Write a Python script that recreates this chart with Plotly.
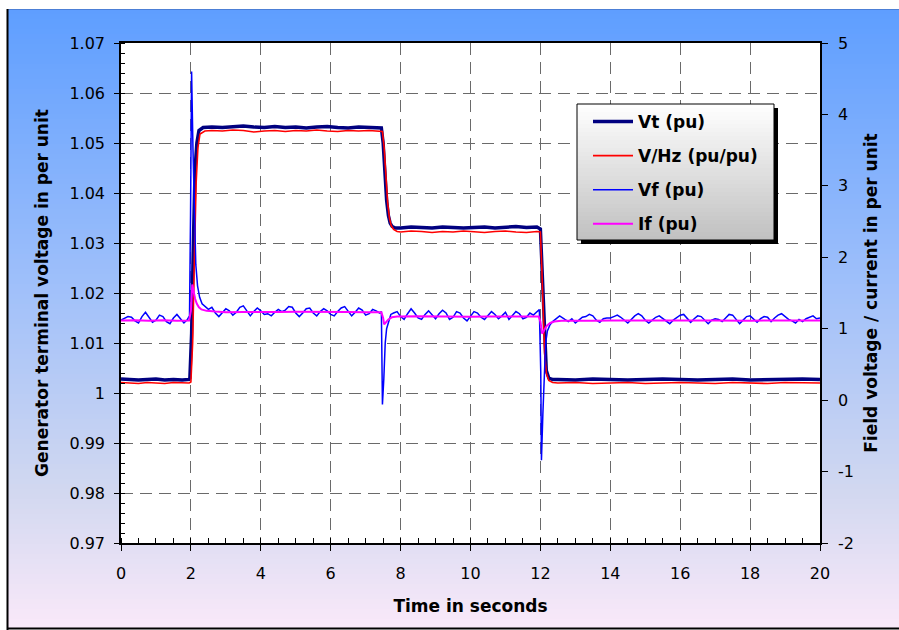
import plotly.graph_objects as go

# ---------------------------------------------------------------- data
# Terminal voltage Vt (pu) and V/Hz (pu/pu): left axis
t_vt = [0.0, 0.25, 0.5, 0.75, 1.0, 1.25, 1.5, 1.75, 1.95,
        1.97, 2.02, 2.07, 2.12, 2.17, 2.23, 2.35,
        2.6, 2.9, 3.2, 3.5, 3.8, 4.1, 4.4, 4.7, 5.0, 5.3, 5.6, 5.9, 6.2, 6.5, 6.8, 7.1, 7.4,
        7.45, 7.5, 7.55, 7.6, 7.65, 7.7, 7.76, 7.85,
        8.0, 8.3, 8.6, 8.9, 9.2, 9.5, 9.8, 10.1, 10.4, 10.7, 11.0, 11.3, 11.6, 11.9,
        12.0, 12.04, 12.08, 12.12, 12.17, 12.24, 12.35,
        12.5, 13.0, 13.5, 14.0, 14.5, 15.0, 15.5, 16.0, 16.5, 17.0, 17.5, 18.0, 18.5, 19.0, 19.5, 20.0]
vt = [1.0028, 1.0027, 1.0026, 1.0027, 1.0028, 1.0026, 1.0027, 1.0026, 1.0027,
      1.0030, 1.0120, 1.0300, 1.0450, 1.0500, 1.0525, 1.0531,
      1.0532, 1.0531, 1.0533, 1.0534, 1.0532, 1.0531, 1.0533, 1.0531, 1.0532, 1.0530, 1.0532, 1.0533, 1.0531, 1.0530, 1.0532, 1.0531, 1.0530,
      1.0530, 1.0500, 1.0440, 1.0385, 1.0355, 1.0340, 1.0333, 1.0330,
      1.0330, 1.0332, 1.0331, 1.0330, 1.0332, 1.0331, 1.0330, 1.0331, 1.0332, 1.0330, 1.0331, 1.0333, 1.0331, 1.0332,
      1.0328, 1.0260, 1.0170, 1.0090, 1.0045, 1.0030, 1.0027,
      1.0027, 1.0026, 1.0028, 1.0027, 1.0026, 1.0027, 1.0028, 1.0027, 1.0026, 1.0027, 1.0028, 1.0026, 1.0027, 1.0027, 1.0028, 1.0027]

t_vhz = [0.0, 0.25, 0.5, 0.75, 1.0, 1.25, 1.5, 1.75, 1.95,
         2.0, 2.05, 2.1, 2.15, 2.2, 2.26, 2.4,
         2.6, 2.9, 3.2, 3.5, 3.8, 4.1, 4.4, 4.7, 5.0, 5.3, 5.6, 5.9, 6.2, 6.5, 6.8, 7.1, 7.4,
         7.48, 7.53, 7.58, 7.63, 7.68, 7.73, 7.8, 7.9,
         8.0, 8.3, 8.6, 8.9, 9.2, 9.5, 9.8, 10.1, 10.4, 10.7, 11.0, 11.3, 11.6, 11.9,
         12.0, 12.04, 12.08, 12.12, 12.17, 12.24, 12.35,
         12.5, 13.0, 13.5, 14.0, 14.5, 15.0, 15.5, 16.0, 16.5, 17.0, 17.5, 18.0, 18.5, 19.0, 19.5, 20.0]
vhz = [1.0021, 1.0020, 1.0019, 1.0021, 1.0020, 1.0019, 1.0021, 1.0020, 1.0020,
       1.0022, 1.0100, 1.0270, 1.0420, 1.0490, 1.0518, 1.0524,
       1.0525, 1.0524, 1.0526, 1.0525, 1.0522, 1.0524, 1.0525, 1.0523, 1.0525, 1.0524, 1.0526, 1.0524, 1.0523, 1.0525, 1.0524, 1.0525, 1.0523,
       1.0523, 1.0490, 1.0430, 1.0380, 1.0350, 1.0335, 1.0327, 1.0323,
       1.0322, 1.0324, 1.0323, 1.0321, 1.0323, 1.0322, 1.0324, 1.0322, 1.0321, 1.0323, 1.0324, 1.0322, 1.0321, 1.0323,
       1.0322, 1.0250, 1.0160, 1.0080, 1.0040, 1.0025, 1.0021,
       1.0020, 1.0021, 1.0019, 1.0020, 1.0021, 1.0019, 1.0020, 1.0021, 1.0020, 1.0019, 1.0021, 1.0020, 1.0019, 1.0021, 1.0020, 1.0020]

# Field voltage Vf (pu): right axis
t_vf = [0.0, 0.1, 0.2, 0.3, 0.4, 0.5, 0.6, 0.7, 0.8, 0.9, 1.0, 1.1, 1.2, 1.3, 1.4, 1.5, 1.6, 1.7, 1.8, 1.9, 1.96,
        1.99, 2.02, 2.06, 2.10, 2.14, 2.19, 2.25, 2.32, 2.42,
        2.5, 2.6, 2.7, 2.8, 2.9, 3.0, 3.1, 3.2, 3.3, 3.4, 3.5, 3.6, 3.7, 3.8, 3.9, 4.0, 4.1, 4.2, 4.3, 4.4,
        4.5, 4.6, 4.7, 4.8, 4.9, 5.0, 5.1, 5.2, 5.3, 5.4, 5.5, 5.6, 5.7, 5.8, 5.9, 6.0, 6.1, 6.2, 6.3, 6.4,
        6.5, 6.6, 6.7, 6.8, 6.9, 7.0, 7.1, 7.2, 7.3, 7.4, 7.45,
        7.48, 7.52, 7.56, 7.6, 7.66, 7.72, 7.8, 7.9,
        8.0, 8.1, 8.2, 8.3, 8.4, 8.5, 8.6, 8.7, 8.8, 8.9, 9.0, 9.1, 9.2, 9.3, 9.4, 9.5, 9.6, 9.7, 9.8, 9.9,
        10.0, 10.1, 10.2, 10.3, 10.4, 10.5, 10.6, 10.7, 10.8, 10.9, 11.0, 11.1, 11.2, 11.3, 11.4, 11.5, 11.6,
        11.7, 11.8, 11.9, 11.97,
        12.01, 12.03, 12.07, 12.1, 12.15, 12.2, 12.27, 12.35, 12.45, 12.55,
        12.7, 12.8, 12.9, 13.0, 13.1, 13.2, 13.3, 13.4, 13.5, 13.6, 13.7, 13.8, 13.9, 14.0, 14.1, 14.2, 14.3,
        14.4, 14.5, 14.6, 14.7, 14.8, 14.9, 15.0, 15.1, 15.2, 15.3, 15.4, 15.5, 15.6, 15.7, 15.8, 15.9, 16.0,
        16.1, 16.2, 16.3, 16.4, 16.5, 16.6, 16.7, 16.8, 16.9, 17.0, 17.1, 17.2, 17.3, 17.4, 17.5, 17.6, 17.7,
        17.8, 17.9, 18.0, 18.1, 18.2, 18.3, 18.4, 18.5, 18.6, 18.7, 18.8, 18.9, 19.0, 19.1, 19.2, 19.3, 19.4,
        19.5, 19.6, 19.7, 19.8, 19.9, 20.0]
vf = [1.12, 1.14, 1.17, 1.16, 1.11, 1.08, 1.17, 1.23, 1.16, 1.09, 1.12, 1.19, 1.17, 1.10, 1.07, 1.15, 1.20, 1.14, 1.08, 1.13, 1.18,
      2.60, 4.60, 3.50, 2.50, 1.90, 1.60, 1.44, 1.35, 1.30,
      1.27, 1.30, 1.22, 1.17, 1.22, 1.28, 1.25, 1.19, 1.23, 1.30, 1.32, 1.24, 1.18, 1.24, 1.29, 1.25, 1.20, 1.21, 1.18, 1.23,
      1.27, 1.24, 1.26, 1.31, 1.30, 1.22, 1.17, 1.22, 1.28, 1.29, 1.22, 1.18, 1.24, 1.28, 1.25, 1.20, 1.18, 1.24, 1.29, 1.31,
      1.24, 1.18, 1.23, 1.29, 1.26, 1.19, 1.21, 1.27, 1.25, 1.22, 1.24,
      -0.06, 0.30, 0.80, 1.00, 1.12, 1.20, 1.22, 1.24,
      1.17, 1.13, 1.21, 1.28, 1.22, 1.15, 1.13, 1.20, 1.25, 1.19, 1.14, 1.21, 1.26, 1.22, 1.13, 1.16, 1.24, 1.22, 1.15, 1.11,
      1.18, 1.24, 1.22, 1.16, 1.13, 1.19, 1.24, 1.20, 1.14, 1.18, 1.23, 1.13, 1.18, 1.24, 1.21, 1.14, 1.16,
      1.22, 1.19, 1.24, 1.27,
      0.40, -0.84, -0.20, 0.25, 0.80, 0.97, 1.05, 1.10, 1.14, 1.18,
      1.13, 1.10, 1.14, 1.08, 1.12, 1.16, 1.17, 1.20, 1.18, 1.12, 1.09, 1.14, 1.15, 1.15, 1.17, 1.19, 1.16,
      1.12, 1.08, 1.13, 1.18, 1.21, 1.18, 1.12, 1.08, 1.12, 1.16, 1.18, 1.14, 1.10, 1.07, 1.12, 1.16, 1.19,
      1.20, 1.14, 1.09, 1.14, 1.18, 1.17, 1.12, 1.07, 1.12, 1.14, 1.13, 1.10, 1.15, 1.20, 1.19, 1.13, 1.07,
      1.12, 1.17, 1.18, 1.14, 1.09, 1.14, 1.17, 1.16, 1.10, 1.15, 1.19, 1.21, 1.17, 1.13, 1.11, 1.08, 1.13,
      1.10, 1.14, 1.16, 1.18, 1.14, 1.15]

# Field current If (pu): right axis
t_if = [0.0, 0.4, 0.8, 1.2, 1.6, 1.95,
        2.0, 2.04, 2.08, 2.12, 2.17, 2.23, 2.3, 2.45, 2.7,
        3.0, 3.5, 4.0, 4.5, 5.0, 5.5, 6.0, 6.5, 7.0, 7.45,
        7.5, 7.53, 7.58, 7.65, 7.75, 7.9,
        8.5, 9.0, 9.5, 10.0, 10.5, 11.0, 11.5, 11.95,
        12.0, 12.05, 12.1, 12.18, 12.28, 12.4, 12.6,
        13.0, 13.5, 14.0, 15.0, 16.0, 17.0, 18.0, 19.0, 20.0]
i_f = [1.115, 1.120, 1.112, 1.118, 1.110, 1.115,
       1.25, 1.62, 1.52, 1.42, 1.35, 1.30, 1.27, 1.25, 1.24,
       1.232, 1.235, 1.230, 1.233, 1.236, 1.232, 1.230, 1.234, 1.231, 1.232,
       1.15, 1.06, 1.09, 1.13, 1.16, 1.17,
       1.175, 1.170, 1.172, 1.168, 1.170, 1.173, 1.170, 1.172,
       1.10, 0.93, 0.97, 1.04, 1.08, 1.10, 1.11,
       1.115, 1.112, 1.115, 1.118, 1.112, 1.116, 1.113, 1.117, 1.115]

series_names = ["Vt (pu)", "V/Hz (pu/pu)", "Vf (pu)", "If (pu)"]

# right-axis ticks, written with a plain hyphen for negatives
right_ticks = [-2, -1, 0, 1, 2, 3, 4, 5]
right_labels = ["-2", "-1", "0", "1", "2", "3", "4", "5"]

# ---------------------------------------------------------------- geometry helpers
W, H = 899, 630
ML, MR, MT, MB = 121, 79, 43, 87
PW, PH = W - ML - MR, H - MT - MB


def px_x(p):
    return (p - ML) / PW


def px_y(p):
    return (H - MB - p) / PH


def lerp_color(stops, f):
    for (f0, c0), (f1, c1) in zip(stops[:-1], stops[1:]):
        if f <= f1:
            u = 0 if f1 == f0 else (f - f0) / (f1 - f0)
            c = [round(a + (b - a) * u) for a, b in zip(c0, c1)]
            return "rgb(%d,%d,%d)" % tuple(c)
    return "rgb(%d,%d,%d)" % tuple(stops[-1][1])


def gradient_strips(x0, y0, x1, y1, stops, n, layer):
    out = []
    step = (y1 - y0) / n
    for k in range(n):
        ya = y0 + k * step
        yb = min(y1, ya + step + 1)
        out.append(dict(type="rect", xref="paper", yref="paper",
                        x0=px_x(x0), x1=px_x(x1), y0=px_y(ya), y1=px_y(yb),
                        fillcolor=lerp_color(stops, (k + 0.5) / n),
                        line=dict(width=0), layer=layer))
    return out


shapes = []
# chart-area background: blue fading to pale pink
bg_stops = [(0.0, (94, 158, 255)), (0.45, (160, 192, 250)),
            (0.78, (210, 216, 240)), (1.0, (250, 233, 249))]
shapes += gradient_strips(8, 9, W, 629, bg_stops, 124, "below")
# white plotting area
shapes.append(dict(type="rect", xref="paper", yref="paper", x0=0, x1=1, y0=0, y1=1,
                   fillcolor="white", line=dict(width=0), layer="below"))
# outer frame
shapes.append(dict(type="line", xref="paper", yref="paper", x0=px_x(8), x1=px_x(W),
                   y0=px_y(9.5), y1=px_y(9.5), line=dict(color="#4c7fd6", width=1), layer="below"))
shapes.append(dict(type="line", xref="paper", yref="paper", x0=px_x(7.5), x1=px_x(7.5),
                   y0=px_y(9), y1=px_y(630), line=dict(color="black", width=2), layer="below"))
shapes.append(dict(type="line", xref="paper", yref="paper", x0=px_x(7), x1=px_x(W),
                   y0=px_y(628.5), y1=px_y(628.5), line=dict(color="black", width=2), layer="below"))

# legend panel: shadow, grey gradient, border
LX0, LY0, LX1, LY1 = 577, 104, 774, 240
shapes.append(dict(type="rect", xref="paper", yref="paper",
                   x0=px_x(LX0 + 4), x1=px_x(LX1 + 4), y0=px_y(LY0 + 4), y1=px_y(LY1 + 4),
                   fillcolor="black", line=dict(width=0), layer="above"))
shapes += gradient_strips(LX0, LY0, LX1, LY1, [(0.0, (255, 255, 255)), (1.0, (192, 192, 192))], 34, "above")
shapes.append(dict(type="rect", xref="paper", yref="paper",
                   x0=px_x(LX0), x1=px_x(LX1), y0=px_y(LY0), y1=px_y(LY1),
                   fillcolor="rgba(0,0,0,0)", line=dict(color="black", width=1), layer="above"))

# ---------------------------------------------------------------- traces
fig = go.Figure()
fig.add_trace(go.Scatter(x=t_vt, y=vt, name=series_names[0], mode="lines",
                         line=dict(color="#000080", width=3.4), legendgroup="a"))
fig.add_trace(go.Scatter(x=t_vhz, y=vhz, name=series_names[1], mode="lines",
                         line=dict(color="#ff0000", width=1.6), legendgroup="b"))
fig.add_trace(go.Scatter(x=t_vf, y=vf, name=series_names[2], mode="lines", yaxis="y2",
                         line=dict(color="#0000ff", width=1.5), legendgroup="c"))
fig.add_trace(go.Scatter(x=t_if, y=i_f, name=series_names[3], mode="lines", yaxis="y2",
                         line=dict(color="#ff00ff", width=2), legendgroup="d"))

FONT = "DejaVu Sans"
tick_font = dict(family=FONT, size=16, color="black")
title_font = dict(family=FONT, size=17, color="black", weight="bold")
grid = dict(showgrid=True, gridcolor="#6a6a6a", gridwidth=1, griddash="12px,7px")

fig.update_layout(
    width=W, height=H,
    margin=dict(l=ML, r=MR, t=MT, b=MB),
    paper_bgcolor="white", plot_bgcolor="white",
    shapes=shapes,
    showlegend=True,
    legend=dict(x=px_x(588), y=px_y(104), xanchor="left", yanchor="top",
                bgcolor="rgba(0,0,0,0)", borderwidth=0,
                font=dict(family=FONT, size=17, color="black", weight="bold"),
                traceorder="grouped", tracegroupgap=9, itemwidth=40),
    xaxis=dict(range=[0, 20], tick0=0, dtick=2, **grid,
               showline=True, linecolor="black", linewidth=1.5, mirror=True,
               ticks="outside", ticklen=6, tickcolor="black", tickwidth=1,
               ticklabelstandoff=9,
               minor=dict(dtick=0.5, ticks="inside", ticklen=5, tickcolor="black", showgrid=False),
               zeroline=False, tickfont=tick_font,
               title=dict(text="Time in seconds", font=title_font, standoff=18)),
    yaxis=dict(range=[0.97, 1.07], tick0=0.97, dtick=0.01, **grid,
               showline=True, linecolor="black", linewidth=1.5,
               ticks="outside", ticklen=5, tickcolor="black", tickwidth=1,
               ticklabelstandoff=6,
               minor=dict(dtick=0.002, ticks="inside", ticklen=4, tickcolor="black", showgrid=False),
               zeroline=False, tickfont=tick_font,
               title=dict(text="Generator terminal voltage in per unit", font=title_font, standoff=16)),
    yaxis2=dict(range=[-2, 5], tickmode="array", tickvals=right_ticks, ticktext=right_labels,
                overlaying="y", side="right",
                showgrid=False, showline=True, linecolor="black", linewidth=1.5,
                ticks="outside", ticklen=6, tickcolor="black", tickwidth=1,
                ticklabelstandoff=7,
                zeroline=False, tickfont=tick_font,
                title=dict(text="Field voltage / current in per unit", font=title_font, standoff=12)),
)

fig.write_html("out.html")
